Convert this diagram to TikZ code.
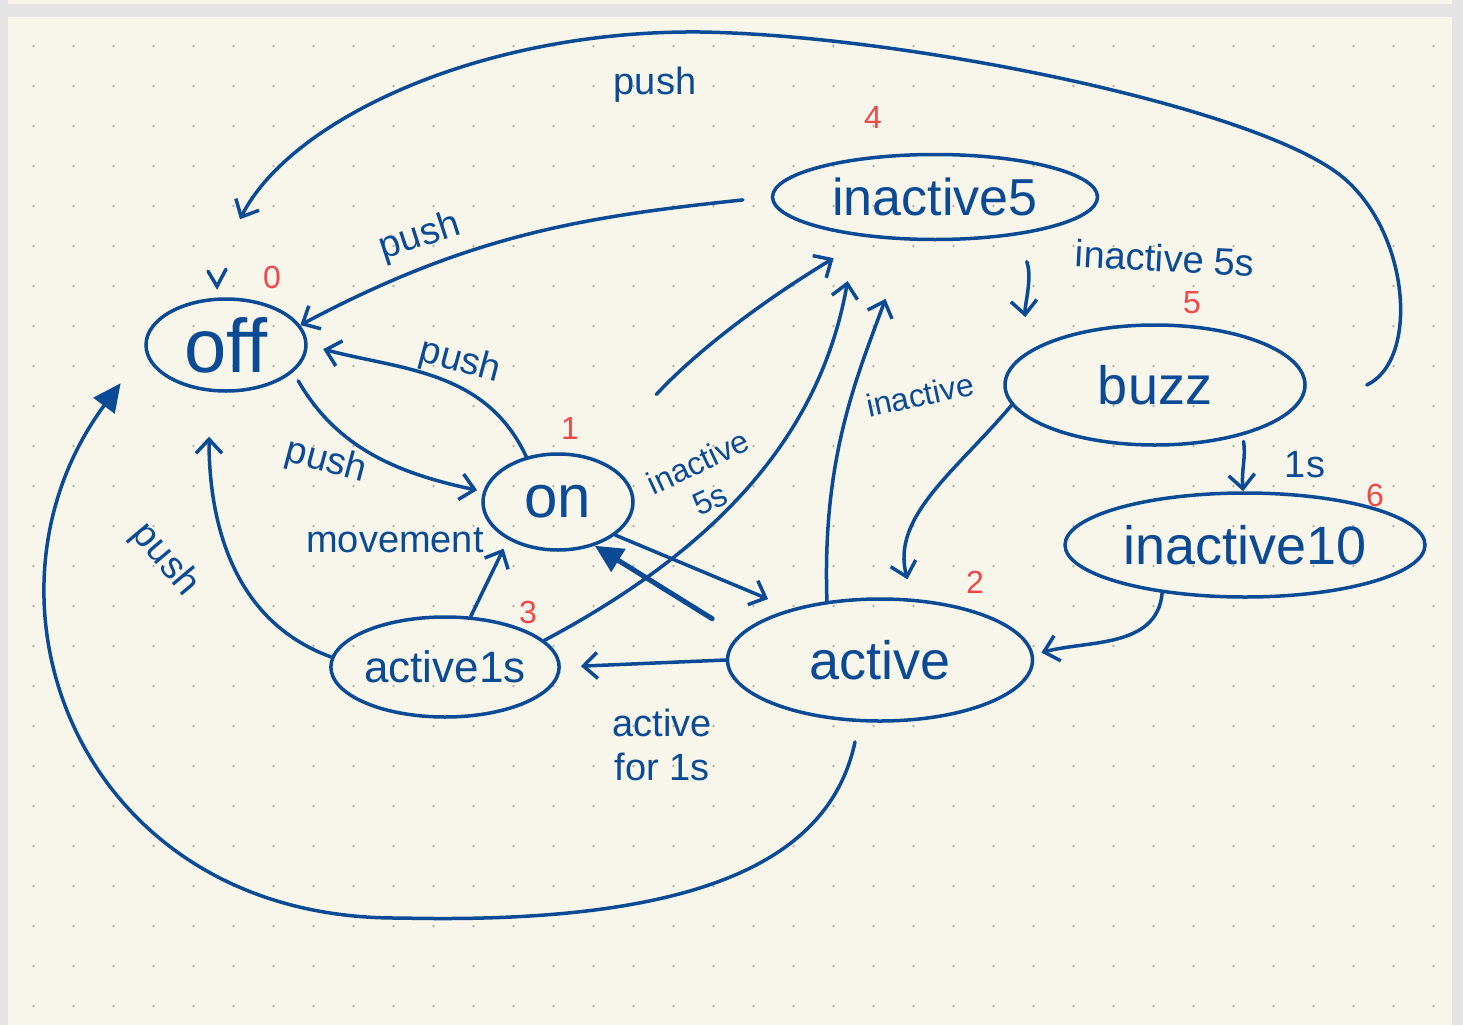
\documentclass[tikz,border=0pt]{standalone}
\usepackage{fontspec}
\setmainfont{Liberation Sans}
\usetikzlibrary{shapes.geometric,arrows.meta}
\definecolor{ink}{HTML}{0B4A94}
\definecolor{rednum}{HTML}{F04848}
\definecolor{paper}{HTML}{F8F6EB}
\definecolor{pagegray}{HTML}{E4E4E4}
\definecolor{dotc}{HTML}{B4B2A8}
\tikzset{
  state/.style={draw=ink, ellipse, line width=3.5pt, inner sep=0pt, text=ink},
  arr/.style={draw=ink, line width=3.5pt, line cap=round, -{Straight Barb[length=14pt,width=26pt]}},
  arrF/.style={draw=ink, line width=3.5pt, line cap=round, -{Triangle[length=28pt,width=26pt]}},
  lab/.style={text=ink, inner sep=0pt, font=\fontsize{38}{44}\selectfont},
  num/.style={text=rednum, inner sep=0pt, font=\fontsize{32}{36}\selectfont}
}
\begin{document}
\begin{tikzpicture}[x=1pt,y=1pt]
	\useasboundingbox (0,0) rectangle (1463,-1025);
	\fill[pagegray] (0,0) rectangle (1463,-1025);
	\fill[paper] (8,0) rectangle (1452,-4);
	\fill[paper] (8,-17) rectangle (1452,-1025);
	\foreach \i in {0,...,35}
		\foreach \j in {0,...,24}
			\fill[dotc] (33.5+40*\i,-46-40*\j) circle (1.3);

	% states
	\node[state, minimum width=160pt, minimum height=92pt, font=\fontsize{76}{80}\selectfont] (off) at (226,-345) {off};
	\node[state, minimum width=150pt, minimum height=96pt, font=\fontsize{60}{66}\selectfont] (on) at (558,-502) {on};
	\node[state, minimum width=325pt, minimum height=85pt, font=\fontsize{52}{60}\selectfont] (inactive5) at (935,-197) {inactive5};
	\node[state, minimum width=300pt, minimum height=120pt, font=\fontsize{54}{60}\selectfont] (buzz) at (1155,-385) {buzz};
	\node[state, minimum width=360pt, minimum height=104pt, font=\fontsize{54}{60}\selectfont] (inactive10) at (1245,-545) {inactive10};
	\node[state, minimum width=305pt, minimum height=122pt, font=\fontsize{54}{60}\selectfont] (active) at (880,-660) {active};
	\node[state, minimum width=225pt, minimum height=100pt, font=\fontsize{44}{50}\selectfont] (active1s) at (445,-667) {active1s};

	% state numbers
	\node[num] (n0) at (272,-277) {0};
	\node[num] (n1) at (570,-428) {1};
	\node[num] (n2) at (975,-582) {2};
	\node[num] (n3) at (528,-612) {3};
	\node[num] (n4) at (873,-117) {4};
	\node[num] (n5) at (1192,-303) {5};
	\node[num] (n6) at (1375,-495) {6};

	% initial mark
	\draw[ink, line width=3.5pt, line cap=round] ([shift={(-18,26)}]off.north) -- ([shift={(-9,11)}]off.north) -- ([shift={(0,28)}]off.north);

	% transitions
	\draw[arr, shorten <=28pt] (inactive5.west) to[out=186,in=28] (off.15);
	\draw[arr, shorten >=16pt] (on.125) to[out=115,in=-15] (off.0);
	\draw[arr, shorten <=10pt, shorten >=6pt] (off.-22) to[out=-60,in=168] (on.172);
	\draw[arr, shorten >=45pt] (active1s.175) to[out=160,in=-90] (off.-110);
	\draw[arrF] ([yshift=-20pt]active.-112) .. controls (830,-860) and (700,-925) .. (400,-918)
		.. controls (80,-920) and (-40,-600) .. ([shift={(-36,-13)}]off.200);
	\draw[arr] ([xshift=60pt]buzz.east) .. controls (1420,-360) and (1410,-230) .. (1340,-175)
		.. controls (1250,-105) and (900,-35) .. (700,-32)
		.. controls (480,-30) and (290,-120) .. ([shift={(14,78)}]off.north);
	\draw[arr, shorten <=88pt, shorten >=40pt] (on.48) to[bend left=8] (inactive5.211);
	\draw[arr, shorten >=46pt] (active1s.15) to[out=28,in=-100] (inactive5.206);
	\draw[arr, shorten >=62pt] (active.132) to[out=92,in=-110] (inactive5.237);
	\draw[arr, shorten <=28pt, shorten >=34pt] (inactive5.-25) to[out=-70,in=95] (buzz.165);
	\draw[arr, shorten >=20pt] (buzz.188) to[out=-130,in=105] (active.62);
	\draw[arr, shorten <=6pt] (buzz.-30) to[out=-80,in=95] (inactive10.92);
	\draw[arr, shorten >=8pt] (inactive10.-150) to[out=-95,in=15] (active.2);
	\draw[arr, shorten >=20pt] (active.180) -- (active1s.0);
	\draw[arr, shorten >=10pt] (active1s.63) -- (on.-143);
	\draw[arr, shorten >=25pt] (on.-30) -- (active.150);
	\draw[arrF, line width=5pt, shorten <=31pt] (active.170) -- (on.-50);

	% transition labels
	\node[lab, rotate=18] (l-push1) at (420,-237) {push};
	\node[lab, rotate=-15] (l-push2) at (460,-362) {push};
	\node[lab, rotate=-15] (l-push3) at (326,-462) {push};
	\node[lab, rotate=-50] (l-push4) at (165,-560) {push};
	\node[lab] (l-push5) at (655,-85) {push};
	\node[lab, rotate=25, font=\fontsize{32}{36}\selectfont] (l-inact1) at (698,-462) {inactive};
	\node[lab, rotate=25, font=\fontsize{32}{36}\selectfont] (l-inact1b) at (710,-500) {5s};
	\node[lab, rotate=12, font=\fontsize{32}{36}\selectfont] (l-inact2) at (920,-395) {inactive};
	\node[lab, rotate=-3] (l-inact3) at (1165,-258) {inactive 5s};
	\node[lab] (l-1s) at (1305,-465) {1s};
	\node[lab] (l-move) at (395,-540) {movement};
	\node[lab, align=center] (l-act) at (662,-745) {active\\for 1s};
\end{tikzpicture}
\end{document}
